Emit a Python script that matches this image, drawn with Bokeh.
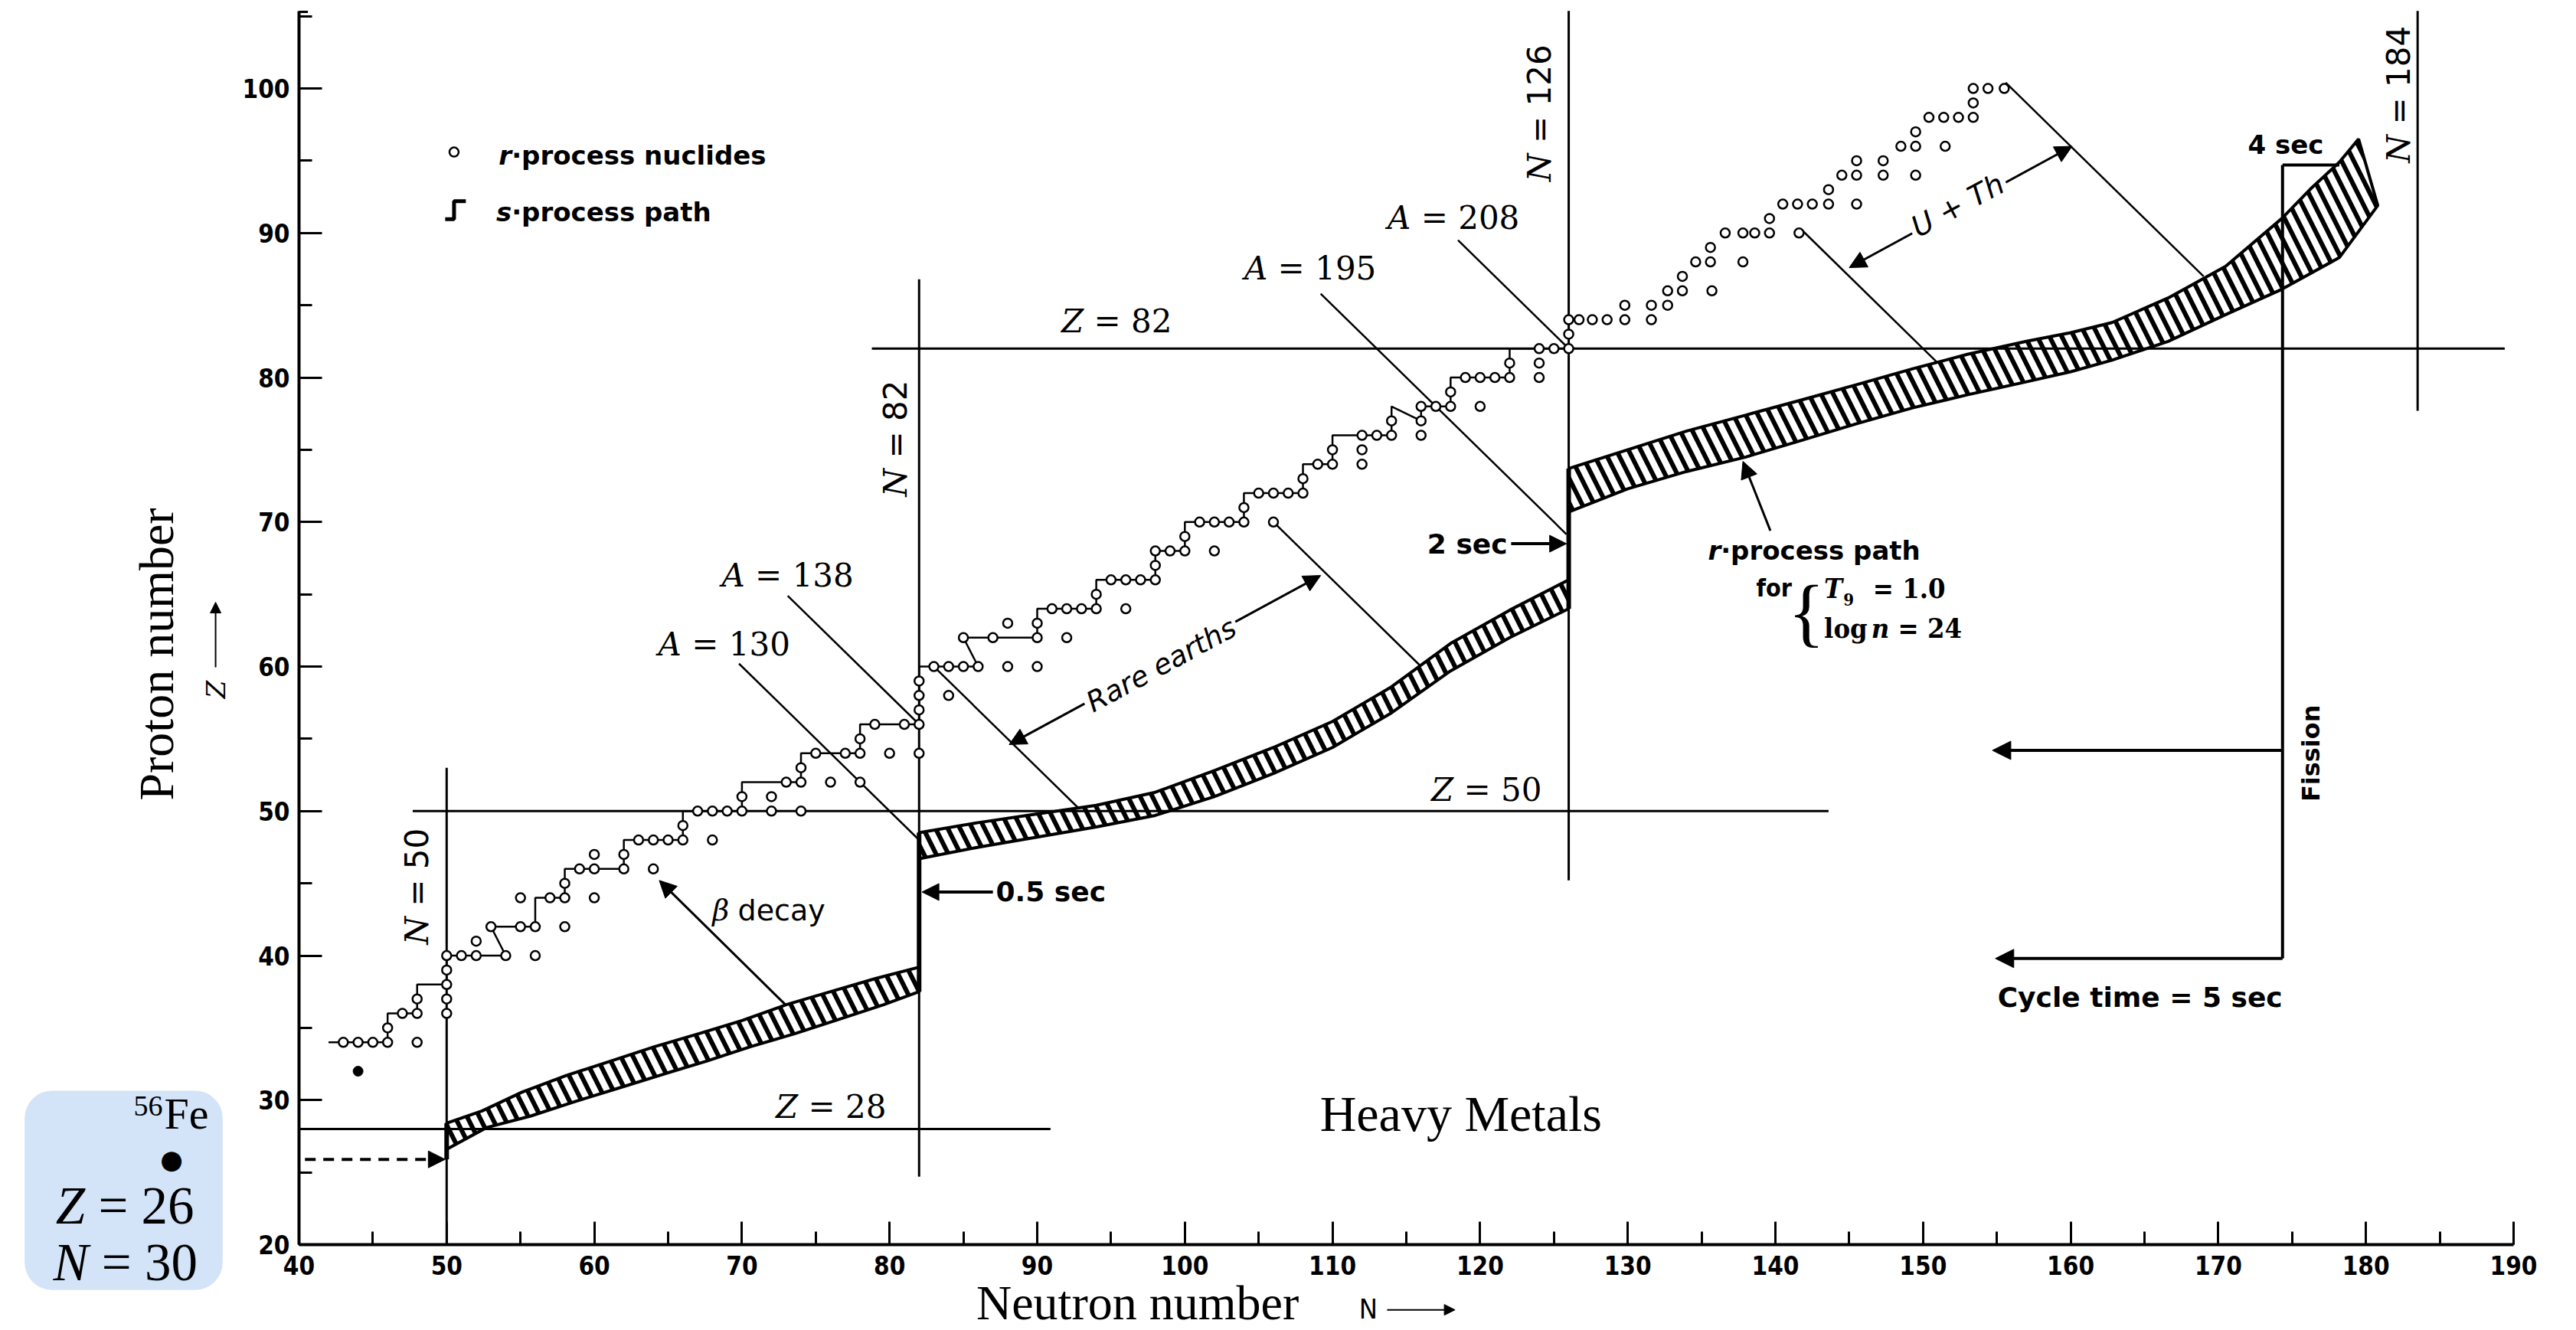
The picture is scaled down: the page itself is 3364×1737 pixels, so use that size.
import math
from bokeh.plotting import figure
from bokeh.models import Range1d, Label, Arrow, NormalHead, SingleIntervalTicker
from bokeh.embed import file_html
from bokeh.resources import INLINE

# ---------------- data ----------------
MAGIC_Z = [28, 50, 82]            # horizontal closed-shell lines
MAGIC_N = [50, 82, 126, 183.5]    # vertical closed-shell lines (N = 184 as drawn)

# s-process path (staircase)
S_PATH_N = [42, 46, 46, 48, 48, 50, 50, 54, 53, 56, 56, 58, 58, 62, 62, 66, 66, 70, 70, 74, 74, 78, 78, 82,
            82, 86, 85, 90, 90, 94, 94, 98, 98, 100, 100, 104, 104, 108, 108, 110, 110, 114, 114, 116, 116,
            118, 118, 122, 122, 126]
S_PATH_Z = [34, 34, 36, 36, 38, 38, 40, 40, 42, 42, 44, 44, 46, 46, 48, 48, 50, 50, 52, 52, 54, 54, 56, 56,
            60, 60, 62, 62, 64, 64, 66, 66, 68, 68, 70, 70, 72, 72, 74, 74, 76, 76, 78, 77, 78,
            78, 80, 80, 82, 82]

# r-process nuclides (open circles)
R_NUC_N = [43, 44, 45, 46, 48, 46, 47, 48, 50, 48, 50, 50, 50,
           50, 51, 52, 54, 56, 52, 53, 55, 56, 58, 55, 57, 58, 60, 58,
           59, 60, 62, 64, 60, 62, 63, 64, 65, 66, 68, 66,
           67, 68, 69, 70, 72, 74, 70, 72, 73, 74, 76, 78, 74,
           75, 77, 78, 80, 82, 78, 79, 81, 82, 82, 82, 84, 82,
           83, 84, 85, 86, 88, 90, 85, 87, 90, 92, 88, 90,
           91, 92, 93, 94, 96, 94, 95, 96, 97, 98, 98,
           98, 99, 100, 102, 100, 101, 102, 103, 104, 106, 104,
           105, 106, 107, 108, 108, 109, 110, 112, 110, 112,
           112, 113, 114, 116, 114, 116, 116, 117, 118, 120, 118,
           119, 120, 121, 122, 124, 122, 124, 124, 125, 126, 126,
           126, 126.7, 127.6, 128.6, 129.8, 131.6, 129.8, 131.6, 132.7,
           132.7, 133.7, 135.7, 133.7, 134.6, 135.6, 137.8, 135.6,
           136.6, 137.8, 138.6, 139.6, 141.6, 139.6,
           140.5, 141.5, 142.5, 143.6, 145.5, 143.6,
           144.5, 145.5, 147.3, 149.5, 145.5, 147.3,
           148.5, 149.5, 151.5, 149.5,
           150.4, 151.4, 152.4, 153.4, 153.4, 153.4, 154.4, 155.5]
R_NUC_Z = [34, 34, 34, 34, 34, 35, 36, 36, 36, 37, 37, 38, 39,
           40, 40, 40, 40, 40, 41, 42, 42, 42, 42, 44, 44, 44, 44, 45,
           46, 46, 46, 46, 47, 47, 48, 48, 48, 48, 48, 49,
           50, 50, 50, 50, 50, 50, 51, 51, 52, 52, 52, 52, 53,
           54, 54, 54, 54, 54, 55, 56, 56, 56, 57, 58, 58, 59,
           60, 60, 60, 60, 60, 60, 62, 62, 62, 62, 63, 63,
           64, 64, 64, 64, 64, 65, 66, 66, 66, 66, 67,
           68, 68, 68, 68, 69, 70, 70, 70, 70, 70, 71,
           72, 72, 72, 72, 73, 74, 74, 74, 75, 75,
           76, 76, 76, 76, 77, 77, 78, 78, 78, 78, 79,
           80, 80, 80, 80, 80, 81, 81, 82, 82, 82, 83,
           84, 84, 84, 84, 84, 84, 85, 85, 85,
           86, 86, 86, 87, 88, 88, 88, 89,
           90, 90, 90, 90, 90, 91,
           92, 92, 92, 92, 92, 93,
           94, 94, 94, 94, 95, 95,
           96, 96, 96, 97,
           98, 98, 98, 98, 99, 100, 100, 100]

SEED_N = [44]
SEED_Z = [32]

# r-process path bands: upper and lower edges
BAND1_UP_N = [50, 52.4, 55.1, 58.1, 61.1, 64.1, 67.1, 70.0, 73.0, 76.0, 79.0, 82.0]
BAND1_UP_Z = [28.4, 29.25, 30.55, 31.7, 32.7, 33.7, 34.6, 35.5, 36.6, 37.5, 38.4, 39.2]
BAND1_LO_N = [50, 52.7, 55.7, 58.7, 61.7, 64.7, 67.6, 70.6, 73.6, 76.6, 79.6, 82.0]
BAND1_LO_Z = [26.6, 28.1, 28.9, 29.9, 30.85, 31.8, 32.7, 33.7, 34.6, 35.6, 36.6, 37.5]

BAND2_UP_N = [82, 86, 90, 94, 98, 102, 106, 110, 114, 118, 122, 126]
BAND2_UP_Z = [48.5, 49.2, 49.8, 50.4, 51.3, 52.8, 54.4, 56.2, 58.6, 61.6, 63.9, 66.0]
BAND2_LO_N = [82, 86, 90, 94, 98, 102, 106, 110, 114, 118, 122, 126]
BAND2_LO_Z = [46.7, 47.5, 48.2, 48.9, 49.7, 51.0, 52.6, 54.4, 56.8, 59.7, 62.0, 64.0]

BAND3_UP_N = [126, 130, 134, 138, 141.6, 145.5, 149.3, 153, 157, 160, 162.8, 166.6, 170.5, 174.3, 176.3, 178.2, 179.5]
BAND3_UP_Z = [73.7, 75.0, 76.3, 77.4, 78.4, 79.5, 80.6, 81.6, 82.5, 83.1, 83.8, 85.5, 87.7, 91.0, 93.1, 94.9, 96.5]
BAND3_LO_N = [126, 130, 134, 138, 141.6, 145.5, 149.3, 153, 157, 160, 162.8, 166.6, 170.5, 174.3, 178.2, 180.8]
BAND3_LO_Z = [70.7, 72.3, 73.5, 74.5, 75.6, 76.8, 77.9, 78.8, 79.7, 80.4, 81.2, 82.5, 84.35, 86.1, 88.3, 91.9]

A_VALUES = [130, 138, 195, 208]          # lines of constant mass number
A_N_FROM = [69.8, 73.1, 109.2, 118.5]
A_N_TO = [82.0, 82.0, 125.85, 126.0]

BRACKET_A = [143, 176, 232, 256]          # rare earths and U + Th brackets
BRACKET_N_FROM = [82.9, 105.9, 141.8, 155.6]
BRACKET_N_TO = [92.8, 116.0, 151.0, 169.0]

NB = "\u00a0"

# ---------------- figure ----------------
# the frame covers the whole canvas; the axes are pinned at N = 40 and Z = 20
p = figure(width=3364, height=1737, x_range=Range1d(19.772, 194.253), y_range=Range1d(14.067, 106.093),
           output_backend="svg", toolbar_location=None, min_border=0)
p.outline_line_color = None
p.grid.visible = False
p.background_fill_color = "white"
p.border_fill_color = "white"

p.xaxis[0].fixed_location = 20
p.xaxis[0].bounds = (40, 190)
p.yaxis[0].fixed_location = 40
p.yaxis[0].bounds = (20, 105.36)

for ax in (p.xaxis[0], p.yaxis[0]):
    ax.ticker = SingleIntervalTicker(interval=10, num_minor_ticks=2)
    ax.axis_line_width = 4
    ax.axis_line_color = "black"
    ax.major_tick_in = 30
    ax.major_tick_out = 0
    ax.minor_tick_in = 17
    ax.minor_tick_out = 0
    ax.major_tick_line_width = 3
    ax.minor_tick_line_width = 3
    ax.major_tick_line_color = "black"
    ax.minor_tick_line_color = "black"
    ax.major_label_text_font = "DejaVu Sans Condensed"
    ax.major_label_text_font_style = "bold"
    ax.major_label_text_font_size = "33px"
    ax.major_label_text_color = "black"
p.xaxis[0].major_label_standoff = 14
p.yaxis[0].major_label_standoff = 12

# small cap at the top of the proton axis
p.segment(x0=[40], y0=[105.3], x1=[40.6], y1=[105.3], line_color="black", line_width=3)

# bands (hatched r-process path)
for up_n, up_z, lo_n, lo_z in ((BAND1_UP_N, BAND1_UP_Z, BAND1_LO_N, BAND1_LO_Z),
                               (BAND2_UP_N, BAND2_UP_Z, BAND2_LO_N, BAND2_LO_Z),
                               (BAND3_UP_N, BAND3_UP_Z, BAND3_LO_N, BAND3_LO_Z)):
    p.patch(up_n + lo_n[::-1], up_z + lo_z[::-1], fill_color="white", line_color="black",
            line_width=4, hatch_pattern="\\", hatch_scale=32, hatch_weight=6, hatch_color="black")

# closed-shell lines
p.segment(x0=[40, 47.7, 78.8], y0=MAGIC_Z, x1=[90.9, 143.6, 189.4], y1=MAGIC_Z,
          line_color="black", line_width=3)
p.segment(x0=MAGIC_N, y0=[20, 24.7, 45.2, 77.7], x1=MAGIC_N, y1=[53.0, 86.8, 105.36, 105.36],
          line_color="black", line_width=3)

# thick jumps of the r-process path at closed shells
p.segment(x0=[50, 82, 126], y0=[25.9, 37.5, 64.0], x1=[50, 82, 126], y1=[28.4, 48.5, 73.7],
          line_color="black", line_width=6)

# constant-A lines
p.segment(x0=A_N_FROM, y0=[a - n for a, n in zip(A_VALUES, A_N_FROM)],
          x1=A_N_TO, y1=[a - n for a, n in zip(A_VALUES, A_N_TO)], line_color="black", line_width=2.5)
p.segment(x0=BRACKET_N_FROM, y0=[a - n for a, n in zip(BRACKET_A, BRACKET_N_FROM)],
          x1=BRACKET_N_TO, y1=[a - n for a, n in zip(BRACKET_A, BRACKET_N_TO)], line_color="black", line_width=2.5)

# fission cycle lines
p.segment(x0=[174.35, 174.35], y0=[39.8, 94.7], x1=[174.35, 178.2], y1=[94.7, 94.7],
          line_color="black", line_width=4)

# s-process path
p.line(S_PATH_N, S_PATH_Z, line_color="black", line_width=2.5)

# legend symbols
p.scatter([50.5], [95.6], size=12, marker="circle", fill_color="white", line_color="black", line_width=2.5)
p.line([49.9, 50.5, 50.5, 51.3], [90.95, 90.95, 92.2, 92.2], line_color="black", line_width=5)

# nuclides
p.scatter(R_NUC_N, R_NUC_Z, size=12, marker="circle", fill_color="white", line_color="black", line_width=2.5)
p.scatter(SEED_N, SEED_Z, size=13, marker="circle", fill_color="black", line_color="black")


def label(x, y, text, size, font="DejaVu Sans", style="bold", align="left", baseline="middle",
          angle=0.0, **kw):
    p.add_layout(Label(x=x, y=y, text=text, text_font=font, text_font_size=f"{size}px",
                       text_font_style=style, text_align=align, text_baseline=baseline,
                       angle=angle, text_color="black", **kw))


def arrow(x0, y0, x1, y1, w=3, head=22, both=False, dash="solid"):
    kw = dict(end=NormalHead(size=head, fill_color="black", line_color="black", line_width=1))
    if both:
        kw["start"] = NormalHead(size=head, fill_color="black", line_color="black", line_width=1)
    p.add_layout(Arrow(x_start=x0, y_start=y0, x_end=x1, y_end=y1, line_width=w, line_color="black",
                       line_dash=dash, **kw))


ROT = math.pi / 2

# 56Fe seed box
label(28.12, 23.76, NB, 2, style="normal", align="center",
      background_fill_color="#d3e4f8", padding=129, border_radius=36)
label(30.77, 29.59, "56", 38, font="Liberation Serif", style="normal", align="right")
label(30.87, 29.06, "Fe", 58, font="Liberation Serif", style="normal")
label(31.37, 25.93, "\u25cf", 34, style="normal", align="center")
label(25.51, 22.65, "Z", 69, font="Liberation Serif", style="italic", align="right")
label(25.51, 22.65, NB + "= 26", 69, font="Liberation Serif", style="normal")
label(25.74, 18.78, "N", 69, font="Liberation Serif", style="italic", align="right")
label(25.74, 18.78, NB + "= 30", 69, font="Liberation Serif", style="normal")

# axis titles
label(96.8, 15.97, "Neutron number", 64, font="Liberation Serif", style="normal", align="center")
label(111.8, 15.55, "N", 36, font="DejaVu Sans Condensed", style="normal")
arrow(113.7, 15.49, 118.3, 15.49, w=2, head=14)
label(30.35, 60.85, "Proton number", 64, font="Liberation Serif", style="normal", align="center", angle=ROT)
label(34.35, 58.41, "Z", 34, font="DejaVu Serif", style="italic", align="center", angle=ROT)
arrow(34.35, 59.95, 34.35, 64.45, w=2, head=14)

# legend
label(54.4, 95.39, "r", 34, style="bold italic", align="right")
label(54.4, 95.39, "\u00b7process nuclides", 34)
label(54.4, 91.47, "s", 34, style="bold italic", align="right")
label(54.4, 91.47, "\u00b7process path", 34)

# Z and A labels
for letter, rest, x, y in (("Z", "= 28", 73.8, 29.54), ("Z", "= 50", 118.2, 51.47), ("Z", "= 82", 93.15, 83.89),
                           ("A", "= 130", 65.9, 61.54), ("A", "= 138", 70.2, 66.3),
                           ("A", "= 195", 105.6, 87.55), ("A", "= 208", 115.3, 91.05)):
    label(x, y, letter, 42, font="DejaVu Serif", style="italic", align="right")
    label(x, y, NB + rest, 42, font="DejaVu Serif", style="normal")

# rotated N labels
for rest, x, y in (("= 50", 48.0, 42.7), ("= 82", 80.4, 73.7), ("= 126", 124.0, 95.5), ("= 184", 182.2, 96.8)):
    label(x, y, "N", 42, font="DejaVu Serif", style="italic", align="right", angle=ROT)
    label(x, y, NB + rest, 42, font="DejaVu Sans", style="normal", align="left", angle=ROT)

label(68.0, 43.1, "\u03b2", 38, font="DejaVu Serif", style="italic")
label(69.1, 43.1, NB + "decay", 38, style="normal")
label(87.2, 44.4, "0.5 sec", 36)
label(121.85, 68.5, "2 sec", 36, align="right")
label(172.0, 96.08, "4 sec", 34)
label(176.3, 54.0, "Fission", 32, align="center", angle=ROT)
label(155.05, 37.11, "Cycle time = 5 sec", 36)
label(136.3, 68.05, "r", 34, style="bold italic", align="right")
label(136.3, 68.05, "\u00b7process path", 34)
label(138.7, 65.43, "for", 32, font="DejaVu Sans Condensed")
label(142.1, 63.76, "{", 100, font="Liberation Serif", style="normal", align="center")
label(143.3, 65.43, "T", 36, font="DejaVu Serif Condensed", style="bold italic")
label(144.6, 64.66, "9", 22, font="DejaVu Serif Condensed", style="bold")
label(146.6, 65.43, "= 1.0", 36, font="DejaVu Serif Condensed", style="bold")
label(143.3, 62.7, "log", 36, font="DejaVu Serif Condensed", style="bold")
label(146.5, 62.7, "n", 36, font="DejaVu Serif Condensed", style="bold italic")
label(148.3, 62.7, "= 24", 36, font="DejaVu Serif Condensed", style="bold")
label(118.7, 29.06, "Heavy Metals", 66, font="Liberation Serif", style="normal", align="center")

# arrows
arrow(72.95, 36.6, 64.4, 45.2, w=3)
arrow(87.0, 44.4, 82.2, 44.4, w=4)
arrow(122.1, 68.5, 125.85, 68.5, w=4)
arrow(139.66, 69.4, 137.8, 74.2, w=3)
arrow(88.1, 54.6, 109.2, 66.3, w=3, both=True)
arrow(145.0, 87.6, 160.1, 96.0, w=3, both=True)
arrow(174.35, 54.2, 154.7, 54.2, w=4, head=24)
arrow(174.35, 39.8, 154.9, 39.8, w=4, head=24)
arrow(40.4, 25.9, 49.9, 25.9, w=4, dash="14 10")

# labels sitting on the double arrows
label(98.4, 60.1, "Rare earths", 37, style="italic", align="center", angle=0.497,
      background_fill_color="white", padding=4)
label(152.35, 91.9, "U + Th", 38, style="italic", align="center", angle=0.492,
      background_fill_color="white", padding=4)

open("out.html", "w").write(file_html(p, INLINE))
